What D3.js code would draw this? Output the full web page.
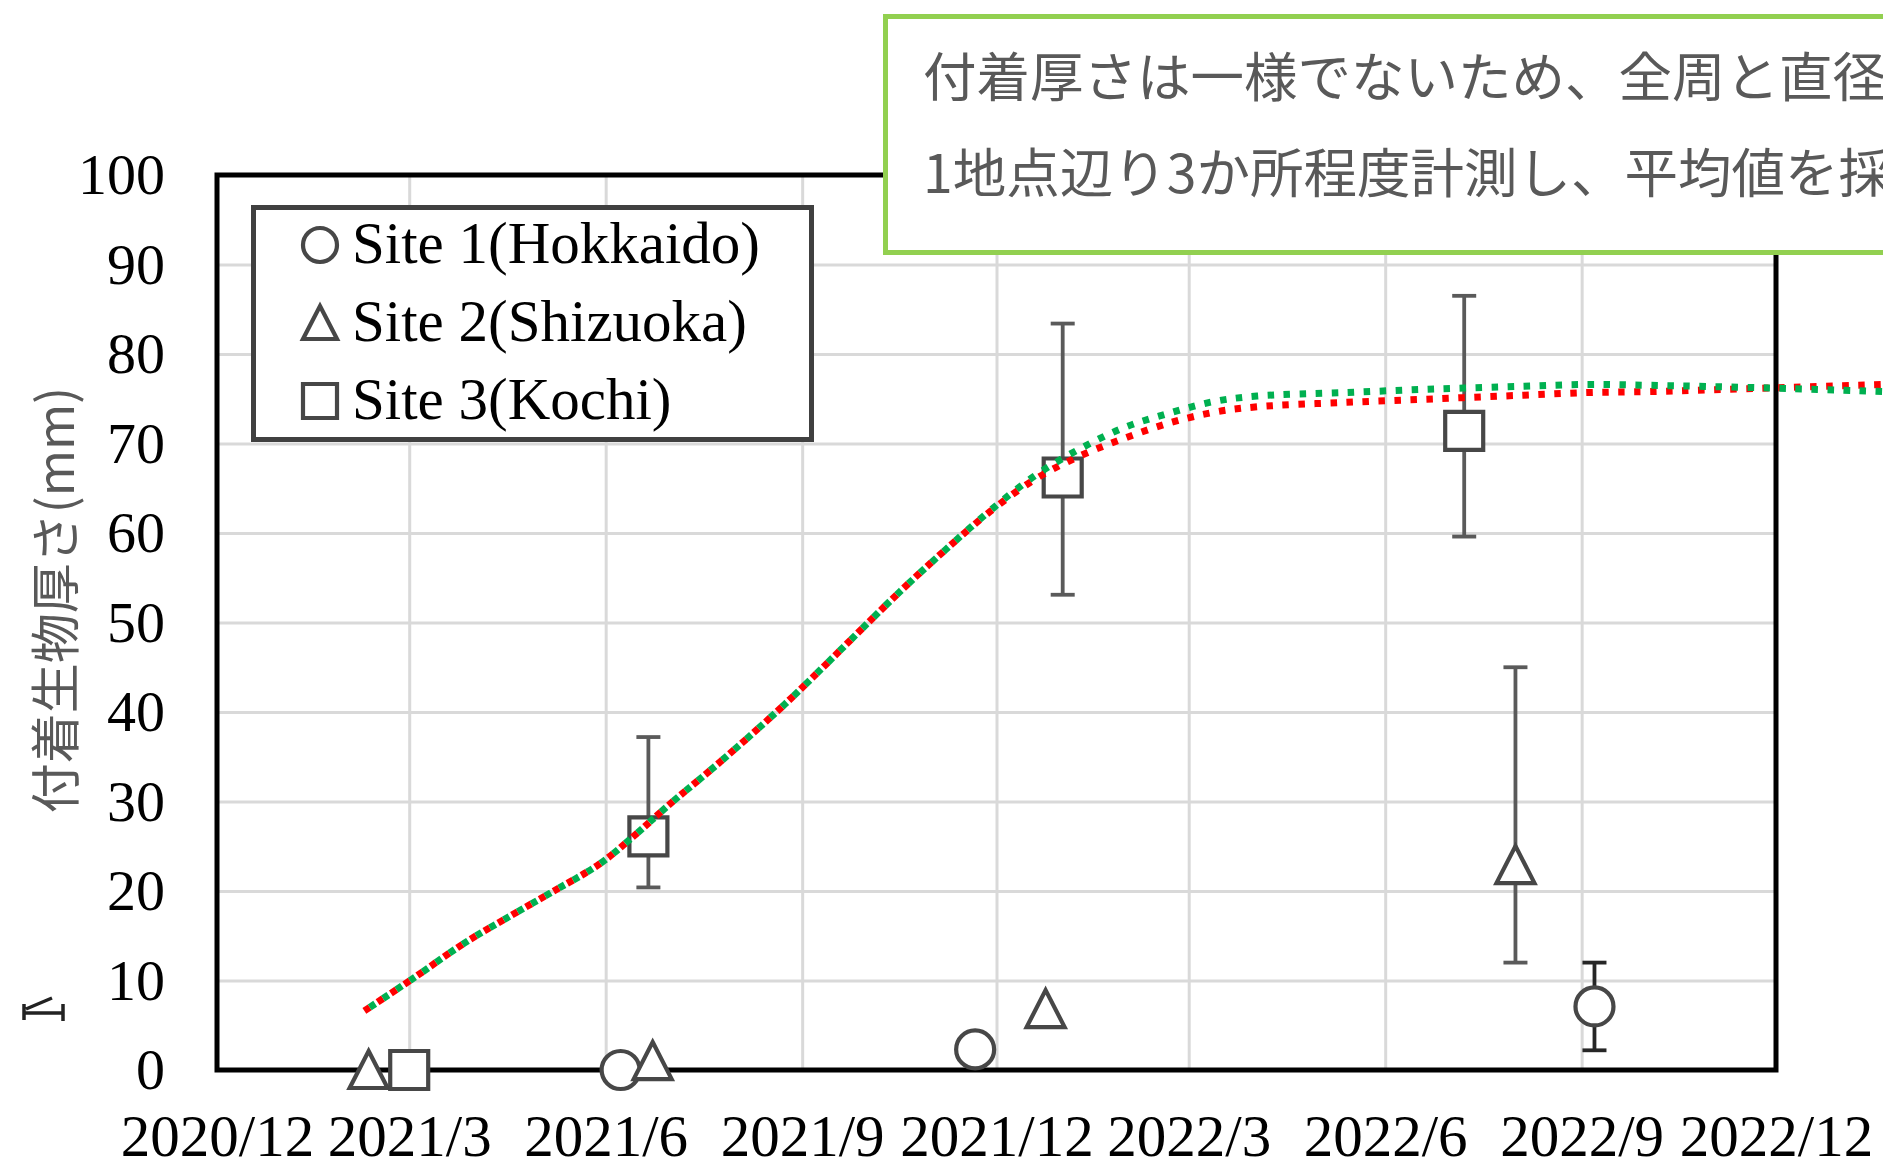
<!DOCTYPE html>
<html>
<head>
<meta charset="utf-8">
<script src="https://cdn.jsdelivr.net/npm/d3@7"></script>
<style>
  html, body { margin: 0; padding: 0; background: #fff; overflow: hidden; }
  svg { display: block; }
</style>
</head>
<body>
<svg id="chart" width="1883" height="1165"></svg>
<script>
// ---- axis ticks ----
const xTickDates = ["2020-12-01", "2021-03-01", "2021-06-01", "2021-09-01", "2021-12-01",
                    "2022-03-01", "2022-06-01", "2022-09-01", "2022-12-01"];
const yTicks = [0, 10, 20, 30, 40, 50, 60, 70, 80, 90, 100];

// ---- measured thickness (mm) per site ----
const site1Dates = ["2021-06-08", "2021-11-21", "2022-09-07"];
const site1Values = [0, 2.3, 7.1];
const site1ErrPlus = [0, 0, 4.9];
const site1ErrMinus = [0, 0, 4.9];

const site2Dates = ["2021-02-10", "2021-06-23", "2021-12-24", "2022-08-01"];
const site2Values = [0, 1.0, 6.8, 22.9];
const site2ErrPlus = [0, 0, 0, 22.1];
const site2ErrMinus = [0, 0, 0, 10.9];

const site3Dates = ["2021-03-01", "2021-06-21", "2022-01-01", "2022-07-08"];
const site3Values = [0, 26.1, 66.2, 71.4];
const site3ErrPlus = [0, 11.1, 17.2, 15.1];
const site3ErrMinus = [0, 5.7, 13.1, 11.8];

// ---- growth curves (dotted red / green) ----
const curveDates = ["2021-02-08", "2021-03-02", "2021-03-27", "2021-04-18", "2021-05-07",
                    "2021-05-29", "2021-06-14", "2021-06-30", "2021-07-24", "2021-08-24",
                    "2021-10-17", "2021-11-07", "2021-11-28", "2021-12-19", "2022-01-09",
                    "2022-01-30", "2022-02-20", "2022-03-13", "2022-04-02", "2022-05-14",
                    "2022-06-25", "2022-08-05", "2022-09-05", "2022-10-03", "2022-11-28",
                    "2023-01-22"];
const redCurve = [6.6, 10.1, 14.2, 17.3, 19.9, 23.0, 26.1, 29.5, 34.3, 40.9,
                  53.5, 58.1, 62.4, 66.0, 68.6, 70.6, 72.3, 73.5, 74.1, 74.6,
                  75.0, 75.4, 75.7, 75.8, 76.2, 76.6];
const greenCurve = [6.6, 10.1, 14.2, 17.3, 19.9, 23.0, 26.1, 29.5, 34.3, 40.9,
                    53.5, 58.1, 62.5, 66.4, 69.4, 71.8, 73.4, 74.7, 75.3, 75.7,
                    76.1, 76.4, 76.6, 76.5, 76.2, 75.8];

const legendLabels = ["Site 1(Hokkaido)", "Site 2(Shizuoka)", "Site 3(Kochi)"];
const yTitle = "付着生物厚さ(mm)";
const noteLines = ["付着厚さは一様でないため、全周と直径",
                   "1地点辺り3か所程度計測し、平均値を採用"];

// ---- layout ----
const W = 1883, H = 1165;
const plot = { left: 217, right: 1776, top: 175, bottom: 1070 };
const serif = "'Liberation Serif', 'Times New Roman', serif";
const cjk = "'Noto Sans CJK JP', 'Noto Sans', sans-serif";
const markerStroke = "#474747";

const parse = d3.utcParse("%Y-%m-%d");
const svg = d3.select("#chart");

const x = d3.scaleUtc()
  .domain([parse(xTickDates[0]), parse(xTickDates[xTickDates.length - 1])])
  .range([plot.left, plot.right]);
const y = d3.scaleLinear().domain([0, 100]).range([plot.bottom, plot.top]);

svg.append("rect").attr("width", W).attr("height", H).attr("fill", "#fff");

// gridlines
const gridV = svg.append("g")
  .attr("transform", `translate(0,${plot.bottom})`)
  .call(d3.axisBottom(x).tickValues(xTickDates.map(parse))
    .tickSize(-(plot.bottom - plot.top)).tickFormat(""));
gridV.select(".domain").remove();
gridV.selectAll("line").attr("stroke", "#d9d9d9").attr("stroke-width", 3);

const gridH = svg.append("g")
  .attr("transform", `translate(${plot.left},0)`)
  .call(d3.axisLeft(y).tickValues(yTicks)
    .tickSize(-(plot.right - plot.left)).tickFormat(""));
gridH.select(".domain").remove();
gridH.selectAll("line").attr("stroke", "#d9d9d9").attr("stroke-width", 3);

// tick labels
const xAxis = svg.append("g")
  .attr("transform", `translate(0,${plot.bottom})`)
  .call(d3.axisBottom(x).tickValues(xTickDates.map(parse))
    .tickSize(0).tickPadding(44).tickFormat(d3.utcFormat("%Y/%-m")));
xAxis.select(".domain").remove();
xAxis.selectAll("text").attr("font-family", serif).attr("font-size", 59).attr("fill", "#000");

const yAxis = svg.append("g")
  .attr("transform", `translate(${plot.left},0)`)
  .call(d3.axisLeft(y).tickValues(yTicks).tickSize(0).tickPadding(52));
yAxis.select(".domain").remove();
yAxis.selectAll("text").attr("font-family", serif).attr("font-size", 58).attr("fill", "#000");

// plot frame
svg.append("rect")
  .attr("x", plot.left).attr("y", plot.top)
  .attr("width", plot.right - plot.left).attr("height", plot.bottom - plot.top)
  .attr("fill", "none").attr("stroke", "#000").attr("stroke-width", 5);

// y title
svg.append("text")
  .attr("transform", `translate(52,600) rotate(-90)`)
  .attr("text-anchor", "middle").attr("dominant-baseline", "central")
  .attr("font-family", cjk).attr("font-size", 50).attr("fill", "#595959")
  .text(yTitle);

// small stray mark near the axis title
svg.append("path")
  .attr("d", "M24,1004 L24,1020 M24,1013 L63,1013 M63,1004 L63,1021 M26,1009 L52,998")
  .attr("fill", "none").attr("stroke", "#222").attr("stroke-width", 3.5);

// marker shapes
const excelTriangle = {
  draw(ctx, size) {
    const s = Math.sqrt(size);
    ctx.moveTo(0, -s / 2);
    ctx.lineTo(s / 2, s / 2 - 1);
    ctx.lineTo(-s / 2, s / 2 - 1);
    ctx.closePath();
  }
};
function markerPath(type, side) {
  if (type === "circle") return d3.symbol(d3.symbolCircle, Math.PI * (side / 2) ** 2)();
  if (type === "square") return d3.symbol(d3.symbolSquare, side * side)();
  return d3.symbol(excelTriangle, side * side)();
}

const sites = [
  { type: "circle", dates: site1Dates, values: site1Values, plus: site1ErrPlus, minus: site1ErrMinus, err: "#262626" },
  { type: "triangle", dates: site2Dates, values: site2Values, plus: site2ErrPlus, minus: site2ErrMinus, err: "#5a5a5a" },
  { type: "square", dates: site3Dates, values: site3Values, plus: site3ErrPlus, minus: site3ErrMinus, err: "#5a5a5a" }
];

// error bars
const errG = svg.append("g");
sites.forEach(s => {
  s.dates.forEach((d, i) => {
    if (!s.plus[i] && !s.minus[i]) return;
    const cx = x(parse(d));
    const hi = y(s.values[i] + s.plus[i]);
    const lo = y(s.values[i] - s.minus[i]);
    errG.append("line").attr("x1", cx).attr("x2", cx).attr("y1", hi).attr("y2", lo)
      .attr("stroke", s.err).attr("stroke-width", 3.8);
    [hi, lo].forEach(yy => errG.append("line")
      .attr("x1", cx - 12).attr("x2", cx + 12).attr("y1", yy).attr("y2", yy)
      .attr("stroke", s.err).attr("stroke-width", 3.8));
  });
});

// markers
const mkG = svg.append("g");
sites.forEach(s => {
  mkG.selectAll(null).data(s.dates.map((d, i) => ({ date: parse(d), v: s.values[i] })))
    .join("path")
    .attr("transform", d => `translate(${x(d.date)},${y(d.v)})`)
    .attr("d", markerPath(s.type, 38))
    .attr("fill", "#fff").attr("stroke", markerStroke).attr("stroke-width", 4.2);
});

// growth curves: square dots, green dots sit right after the red ones
const line = d3.line()
  .x(d => x(d.date)).y(d => y(d.v))
  .curve(d3.curveCatmullRom.alpha(0.5));
const redData = curveDates.map((d, i) => ({ date: parse(d), v: redCurve[i] }));
const greenData = curveDates.map((d, i) => ({ date: parse(d), v: greenCurve[i] }));
svg.append("path").datum(redData).attr("d", line)
  .attr("fill", "none").attr("stroke", "#ff0000").attr("stroke-width", 7)
  .attr("stroke-dasharray", "6.5 9.5");
svg.append("path").datum(greenData).attr("d", line)
  .attr("fill", "none").attr("stroke", "#00b050").attr("stroke-width", 7)
  .attr("stroke-dasharray", "6.5 9.5").attr("stroke-dashoffset", 9.5);

// legend
const lg = svg.append("g");
lg.append("rect").attr("x", 253.5).attr("y", 207.5).attr("width", 558).attr("height", 232)
  .attr("fill", "#fff").attr("stroke", "#404040").attr("stroke-width", 5);
const legendY = [263, 341, 419];
legendLabels.forEach((lab, i) => {
  lg.append("path")
    .attr("transform", `translate(320,${legendY[i] - 18})`)
    .attr("d", markerPath(sites[i].type, 34))
    .attr("fill", "#fff").attr("stroke", markerStroke).attr("stroke-width", 4.2);
  lg.append("text").attr("x", 352).attr("y", legendY[i])
    .attr("font-family", serif).attr("font-size", 59).attr("fill", "#000")
    .text(lab);
});

// note box
const note = svg.append("g");
note.append("rect").attr("x", 885.5).attr("y", 16.5).attr("width", 1100).attr("height", 236)
  .attr("fill", "#fff").attr("stroke", "#92d050").attr("stroke-width", 5);
noteLines.forEach((t, i) => {
  note.append("text").attr("x", 923).attr("y", 97 + i * 96)
    .attr("font-family", cjk).attr("font-size", 53.5).attr("fill", "#595959")
    .text(t);
});
</script>
</body>
</html>
